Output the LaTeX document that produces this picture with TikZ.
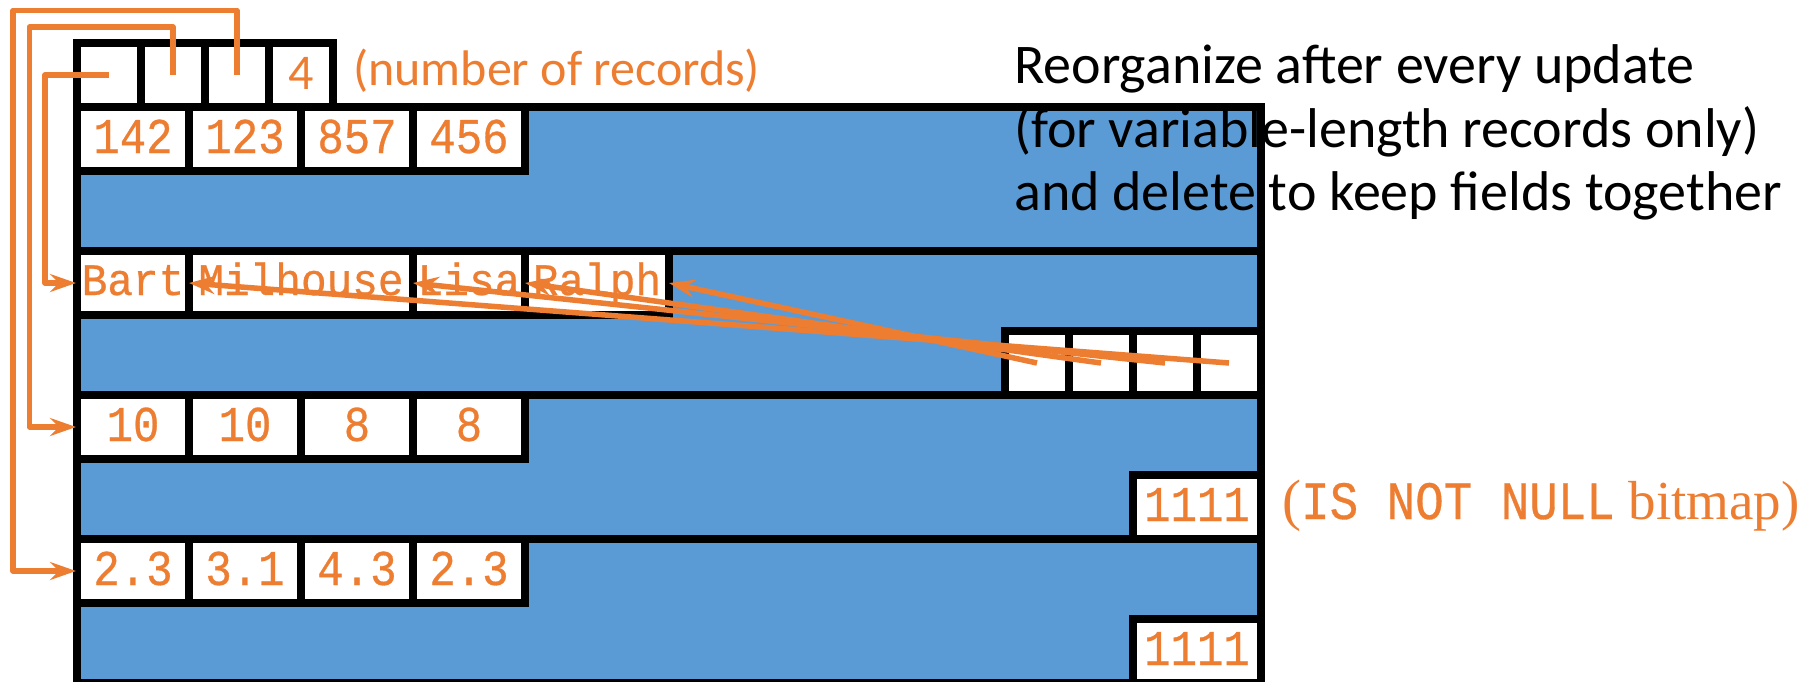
\documentclass[tikz,border=0pt]{standalone}
\usepackage{fontspec}
\setmainfont{Carlito}
\newfontfamily\monof[FakeStretch=0.95,FakeBold=0.6]{Liberation Mono}
\newfontfamily\monodig[FakeStretch=0.88,FakeBold=0.6]{Liberation Mono}
\newfontfamily\seriff{Liberation Serif}
\usetikzlibrary{arrows.meta}
\definecolor{blockblue}{HTML}{5B9BD5}
\definecolor{org}{HTML}{ED7D31}
\begin{document}
\begin{tikzpicture}[x=1pt,y=-1pt,
  cellbox/.style={draw=black,line width=8pt,fill=white,inner sep=0pt,outer sep=0pt,minimum height=64pt,text=org},
  numtxt/.style={font=\monodig\fontsize{50}{50}\selectfont,text height=28pt,text depth=0pt},
  nametxt/.style={font=\monof\fontsize{45}{45}\selectfont,text height=24pt,text depth=0pt},
  hdrtxt/.style={font=\fontsize{50}{50}\selectfont,text height=28pt,text depth=0pt},
  ptr/.style={draw=org,line width=5.5pt,line join=round,-{Stealth[length=26pt,width=18pt,inset=9pt]}},
  lbl/.style={anchor=base west,inner sep=0pt}
]
\useasboundingbox (0,0) rectangle (1815,681);
\clip (0,0) rectangle (1815,681);
% block
\fill[blockblue] (77,107) rectangle (1261,683);
\draw[line width=8pt] (77,107) rectangle (1261,683);
\foreach \yy in {251,395,539} \draw[line width=8pt] (77,\yy) -- (1261,\yy);
% header
\node[cellbox,minimum width=64pt] (h1) at (109,75) {};
\node[cellbox,minimum width=64pt] (h2) at (173,75) {};
\node[cellbox,minimum width=64pt] (h3) at (237,75) {};
\node[cellbox,minimum width=64pt,hdrtxt] (h4) at (301,75) {4};
% ids
\node[cellbox,minimum width=112pt,numtxt] (id1) at (133,139) {142};
\node[cellbox,minimum width=112pt,numtxt] (id2) at (245,139) {123};
\node[cellbox,minimum width=112pt,numtxt] (id3) at (357,139) {857};
\node[cellbox,minimum width=112pt,numtxt] (id4) at (469,139) {456};
% names
\node[cellbox,minimum width=112pt,nametxt] (bart) at (133,283) {Bart};
\node[cellbox,minimum width=224pt,nametxt] (mil) at (301,283) {Milhouse};
\node[cellbox,minimum width=112pt,nametxt] (lisa) at (469,283) {Lisa};
\node[cellbox,minimum width=144pt,nametxt] (ralph) at (597,283) {Ralph};
% offsets
\node[cellbox,minimum width=64pt] (o1) at (1037,363) {};
\node[cellbox,minimum width=64pt] (o2) at (1101,363) {};
\node[cellbox,minimum width=64pt] (o3) at (1165,363) {};
\node[cellbox,minimum width=64pt] (o4) at (1229,363) {};
% lengths
\node[cellbox,minimum width=112pt,numtxt] (l1) at (133,427) {10};
\node[cellbox,minimum width=112pt,numtxt] (l2) at (245,427) {10};
\node[cellbox,minimum width=112pt,numtxt] (l3) at (357,427) {8};
\node[cellbox,minimum width=112pt,numtxt] (l4) at (469,427) {8};
\node[cellbox,minimum width=128pt,numtxt] (bm1) at (1197,507) {1111};
% floats
\node[cellbox,minimum width=112pt,numtxt] (f1) at (133,571) {2.3};
\node[cellbox,minimum width=112pt,numtxt] (f2) at (245,571) {3.1};
\node[cellbox,minimum width=112pt,numtxt] (f3) at (357,571) {4.3};
\node[cellbox,minimum width=112pt,numtxt] (f4) at (469,571) {2.3};
\node[cellbox,minimum width=128pt,numtxt] (bm2) at (1197,651) {1111};
% labels
\node[lbl,text=org,font=\fontsize{50}{50}\selectfont] (nrec) at (353,85) {(number of records)};
\node[lbl,font=\fontsize{56}{56}\selectfont] (t1) at (1014,83) {Reorganize after every update};
\node[lbl,font=\fontsize{56}{56}\selectfont] (t2) at (1014,147) {(for variable-length records only)};
\node[lbl,font=\fontsize{56}{56}\selectfont] (t3) at (1014,210) {and delete to keep fields together};
\node[lbl,text=org] (nnull) at (1282,519) {{\seriff\fontsize{57}{57}\selectfont(}{\monodig\fontsize{54}{54}\selectfont IS NOT NULL}{\seriff\fontsize{55}{55}\selectfont\ bitmap)}};
% header pointers
\draw[ptr] (h3.center) |- (13,10.5) |- ([xshift=-1pt]f1.west);
\draw[ptr] (h2.center) |- (29.5,27) |- ([xshift=-1pt]l1.west);
\draw[ptr] (h1.center) -| (45,283) -- ([xshift=-1pt]bart.west);
% offset pointers
\draw[ptr] (o1.center) -- (ralph.east);
\draw[ptr] (o2.center) -- (ralph.west);
\draw[ptr] (o3.center) -- (lisa.west);
\draw[ptr] (o4.center) -- (mil.west);
\end{tikzpicture}
\end{document}
